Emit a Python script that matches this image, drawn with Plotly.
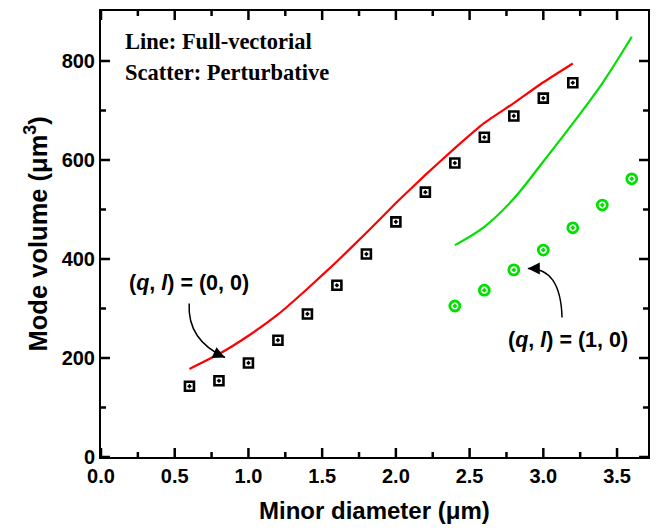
import plotly.graph_objects as go

# ---- data ----
x_full00 = [0.6, 0.8, 1.0, 1.2, 1.4, 1.6, 1.8, 2.0, 2.2, 2.4, 2.6, 2.8, 3.0, 3.2]
v_full00 = [178, 208, 245, 288, 340, 395, 453, 513, 570, 624, 675, 715, 757, 795]

x_pert00 = [0.6, 0.8, 1.0, 1.2, 1.4, 1.6, 1.8, 2.0, 2.2, 2.4, 2.6, 2.8, 3.0, 3.2]
v_pert00 = [143, 154, 190, 236, 289, 347, 410, 475, 535, 594, 646, 689, 725, 756]

x_full10 = [2.4, 2.6, 2.8, 3.0, 3.2, 3.4, 3.6]
v_full10 = [428, 465, 522, 597, 674, 755, 849]

x_pert10 = [2.4, 2.6, 2.8, 3.0, 3.2, 3.4, 3.6]
v_pert10 = [305, 337, 378, 418, 463, 509, 562]

x_major = [0.0, 0.5, 1.0, 1.5, 2.0, 2.5, 3.0, 3.5]
x_minor = [0.25, 0.75, 1.25, 1.75, 2.25, 2.75, 3.25]
y_major = [0, 200, 400, 600, 800]
y_minor = [100, 300, 500, 700]

X_RANGE = [0, 3.71]
Y_RANGE = [0, 901]

RED = "#ff0000"
GREEN = "#00e000"
SANS = "Liberation Sans, Arial, sans-serif"
SERIF = "Liberation Serif, Times New Roman, serif"

W, H = 658, 531
M = dict(l=101, r=8, t=11, b=74)
# size of one pixel in data units, for the inside tick marks
px_x = (X_RANGE[1] - X_RANGE[0]) / (W - M["l"] - M["r"])
px_y = (Y_RANGE[1] - Y_RANGE[0]) / (H - M["t"] - M["b"])

fig = go.Figure()
fig.add_trace(go.Scatter(x=x_full00, y=v_full00, mode="lines",
                         line=dict(color=RED, width=2.2, shape="spline", smoothing=0.4),
                         showlegend=False))
fig.add_trace(go.Scatter(x=x_full10, y=v_full10, mode="lines",
                         line=dict(color=GREEN, width=2.2, shape="spline", smoothing=1),
                         showlegend=False))
fig.add_trace(go.Scatter(x=x_pert00, y=v_pert00, mode="markers",
                         marker=dict(symbol="square-open-dot", size=9, color="black",
                                     line=dict(color="black", width=2.6)),
                         showlegend=False))
fig.add_trace(go.Scatter(x=x_pert10, y=v_pert10, mode="markers",
                         marker=dict(symbol="circle-open-dot", size=10, color=GREEN,
                                     line=dict(color=GREEN, width=2.8)),
                         showlegend=False))

# inside tick marks on all four sides (drawn as line segments)
tx, ty = [], []
for vals, ln in ((x_major, 9), (x_minor, 5)):
    for v in vals:
        tx += [v, v, None, v, v, None]
        ty += [Y_RANGE[0], Y_RANGE[0] + ln * px_y, None,
               Y_RANGE[1], Y_RANGE[1] - ln * px_y, None]
for vals, ln in ((y_major, 9), (y_minor, 5)):
    for v in vals:
        tx += [X_RANGE[0], X_RANGE[0] + ln * px_x, None,
               X_RANGE[1], X_RANGE[1] - ln * px_x, None]
        ty += [v, v, None, v, v, None]
fig.add_trace(go.Scatter(x=tx, y=ty, mode="lines", line=dict(color="black", width=2.5),
                         hoverinfo="skip", showlegend=False, connectgaps=False))

axis_common = dict(
    showline=True, linewidth=2, linecolor="black", mirror=True,
    ticks="", showgrid=False, zeroline=False,
    tickfont=dict(family=SANS, size=20, color="black", weight="bold"),
)

fig.update_xaxes(range=X_RANGE, tickvals=x_major,
                 ticktext=[f"{v:.1f}" for v in x_major], **axis_common)
fig.update_yaxes(range=Y_RANGE, tickvals=y_major, **axis_common)

# curved arrows
fig.add_shape(type="path", xref="x", yref="y",
              path="M 0.598 310 Q 0.584 236 0.841 201",
              line=dict(color="black", width=1.5))
fig.add_shape(type="path", xref="x", yref="y",
              path="M 3.127 282 Q 3.117 383 2.895 381",
              line=dict(color="black", width=1.5))

annots = [
    dict(x=0.841, y=201, xref="x", yref="y", text="", showarrow=True,
         ax=-9, ay=-4, arrowhead=2, arrowsize=1.6, arrowwidth=1.5, arrowcolor="black"),
    dict(x=2.895, y=381, xref="x", yref="y", text="", showarrow=True,
         ax=10, ay=0, arrowhead=2, arrowsize=1.6, arrowwidth=1.5, arrowcolor="black"),
    dict(x=0.6, y=351, xref="x", yref="y", showarrow=False,
         text="(<i>q</i>, <i>l</i>) = (0, 0)",
         font=dict(family=SANS, size=21.5, color="black", weight="bold")),
    dict(x=3.17, y=236, xref="x", yref="y", showarrow=False,
         text="(<i>q</i>, <i>l</i>) = (1, 0)",
         font=dict(family=SANS, size=21.5, color="black", weight="bold")),
    dict(x=0.15, y=840, xref="x", yref="y", showarrow=False, xanchor="left",
         text="Line: Full-vectorial",
         font=dict(family=SERIF, size=22.5, color="black", weight="bold")),
    dict(x=0.15, y=777, xref="x", yref="y", showarrow=False, xanchor="left",
         text="Scatter: Perturbative",
         font=dict(family=SERIF, size=22.5, color="black", weight="bold")),
    dict(x=0.5, y=-0.12, xref="paper", yref="paper", showarrow=False,
         xanchor="center", yanchor="middle",
         text="Minor diameter (\u03bcm)",
         font=dict(family=SANS, size=24, color="black", weight="bold")),
    dict(x=-0.118, y=0.5, xref="paper", yref="paper", showarrow=False,
         xanchor="center", yanchor="middle", textangle=-90,
         text="Mode volume (\u03bcm<sup>3</sup>)",
         font=dict(family=SANS, size=25.5, color="black", weight="bold")),
]
fig.update_layout(
    width=W, height=H,
    margin=M,
    paper_bgcolor="white", plot_bgcolor="white",
    annotations=annots,
)

fig.write_html("out.html", config={"displayModeBar": False},
               post_script="document.body.style.margin='0';document.body.style.padding='0';")
